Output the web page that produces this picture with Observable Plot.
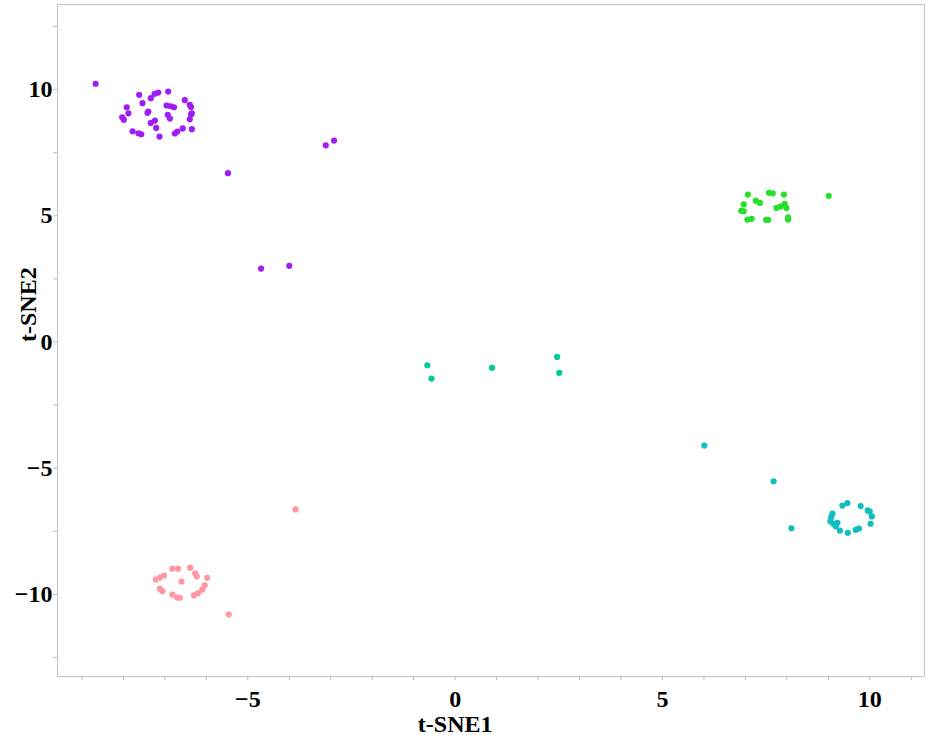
<!DOCTYPE html>
<html>
<head>
<meta charset="utf-8">
<script src="https://cdn.jsdelivr.net/npm/d3@7"></script>
<script src="https://cdn.jsdelivr.net/npm/@observablehq/plot@0.6"></script>
<style>
  html, body { margin: 0; padding: 0; background: #fff; }
</style>
</head>
<body>
<div id="chart"></div>
<script>
// ---- Data ----
const purpleX = [-8.67, -7.62, -7.54, -7.34, -7.25, -7.16, -6.92, -7.92, -7.88, -8.03, -7.99, -7.78, -7.64, -7.57, -7.40, -7.42, -7.34, -7.24, -7.21, -7.13, -6.96, -6.86, -6.78, -6.93, -6.88, -6.52, -6.40, -6.37, -6.35, -6.37, -6.40, -6.57, -6.70, -6.76, -6.35, -5.48, -3.12, -2.92, -4.68, -4.00];
const purpleY = [10.23, 9.79, 9.46, 9.66, 9.83, 9.88, 9.92, 9.30, 9.06, 8.90, 8.80, 8.35, 8.27, 8.23, 9.13, 9.08, 8.68, 8.77, 8.48, 8.14, 9.37, 9.34, 9.30, 9.00, 8.85, 9.58, 9.39, 9.31, 9.06, 9.01, 8.82, 8.46, 8.34, 8.26, 8.43, 6.69, 7.79, 7.98, 2.91, 3.02];

const greenX = [7.06, 7.57, 7.66, 7.93, 9.01, 6.96, 7.25, 7.35, 6.90, 6.96, 7.75, 7.85, 7.95, 7.99, 7.05, 7.15, 7.50, 7.55, 8.03, 8.03];
const greenY = [5.84, 5.91, 5.89, 5.84, 5.79, 5.45, 5.60, 5.51, 5.20, 5.18, 5.31, 5.37, 5.47, 5.31, 4.85, 4.88, 4.84, 4.84, 4.94, 4.85];

const tealX = [-0.67, -0.57, 0.89, 2.46, 2.51];
const tealY = [-0.92, -1.45, -1.02, -0.59, -1.22];

const cyanX = [9.34, 9.46, 9.78, 9.95, 10.00, 10.05, 10.02, 9.07, 9.05, 9.12, 9.22, 9.18, 9.28, 9.47, 9.66, 9.74, 9.10, 6.01, 7.68, 8.11];
const cyanY = [-6.48, -6.38, -6.50, -6.67, -6.71, -6.91, -7.20, -6.94, -7.10, -7.20, -7.16, -7.30, -7.47, -7.56, -7.44, -7.39, -6.80, -4.10, -5.52, -7.38];

const pinkX = [-6.82, -6.68, -6.39, -6.27, -6.23, -5.98, -7.22, -7.12, -7.02, -6.60, -7.12, -7.06, -6.82, -6.70, -6.64, -6.30, -6.20, -6.10, -6.04, -3.85, -5.46];
const pinkY = [-8.98, -8.98, -8.94, -9.16, -9.28, -9.34, -9.41, -9.33, -9.25, -9.49, -9.77, -9.87, -10.01, -10.12, -10.13, -10.04, -9.95, -9.81, -9.64, -6.63, -10.79];

const clusters = ["A", "B", "C", "D", "E"];
const clusterColors = ["#A01EF2", "#26E02C", "#00CC99", "#10BEC0", "#FF98A4"];
const seriesX = [purpleX, greenX, tealX, cyanX, pinkX];
const seriesY = [purpleY, greenY, tealY, cyanY, pinkY];

const xMajorTicks = [-5, 0, 5, 10];
const xMinorTicks = [-9, -8, -7, -6, -5, -4, -3, -2, -1, 0, 1, 2, 3, 4, 5, 6, 7, 8, 9, 10, 11];
const yMajorTicks = [-10, -5, 0, 5, 10];
const yMinorTicks = [-12.5, -10, -7.5, -5, -2.5, 0, 2.5, 5, 7.5, 10, 12.5];
const xLabel = "t-SNE1";
const yLabel = "t-SNE2";

// ---- Build table ----
const points = [];
clusters.forEach((c, i) => {
  seriesX[i].forEach((x, j) => points.push({cluster: c, x, y: seriesY[i][j]}));
});

const fmt = d => (d < 0 ? "\u2212" + (-d) : String(d));

const chart = Plot.plot({
  width: 926,
  height: 744,
  marginLeft: 57,
  marginTop: 4,
  marginRight: 2,
  marginBottom: 68,
  style: {
    fontFamily: "'Liberation Serif', 'Times New Roman', serif",
    fontSize: "24px",
    fontWeight: "bold",
    color: "#000",
    background: "#fff"
  },
  x: {domain: [-9.59, 11.32]},
  y: {domain: [-13.25, 13.37]},
  color: {domain: clusters, range: clusterColors},
  marks: [
    Plot.frame({stroke: "#c8c8c8", strokeWidth: 1.2}),
    Plot.axisX({ticks: xMinorTicks, tickSize: 4, stroke: "#bdbdbd", tickFormat: () => "", label: null}),
    Plot.axisX({ticks: xMajorTicks, tickSize: 0, tickPadding: 13, tickFormat: fmt, label: null, fill: "#000"}),
    Plot.axisY({ticks: yMinorTicks, tickSize: 4, stroke: "#bdbdbd", tickFormat: () => "", label: null}),
    Plot.axisY({ticks: yMajorTicks, tickSize: 0, tickPadding: 5, tickFormat: fmt, label: null, fill: "#000"}),
    Plot.dot(points, {x: "x", y: "y", fill: "cluster", r: 3.1, stroke: null}),
    Plot.text([xLabel], {x: () => 0, frameAnchor: "bottom", dy: 55, text: d => d, fill: "#000"}),
    Plot.text([yLabel], {y: () => 0, frameAnchor: "left", dx: -29, rotate: -90, text: d => d, fill: "#000"})
  ]
});

document.getElementById("chart").appendChild(chart);
</script>
</body>
</html>
